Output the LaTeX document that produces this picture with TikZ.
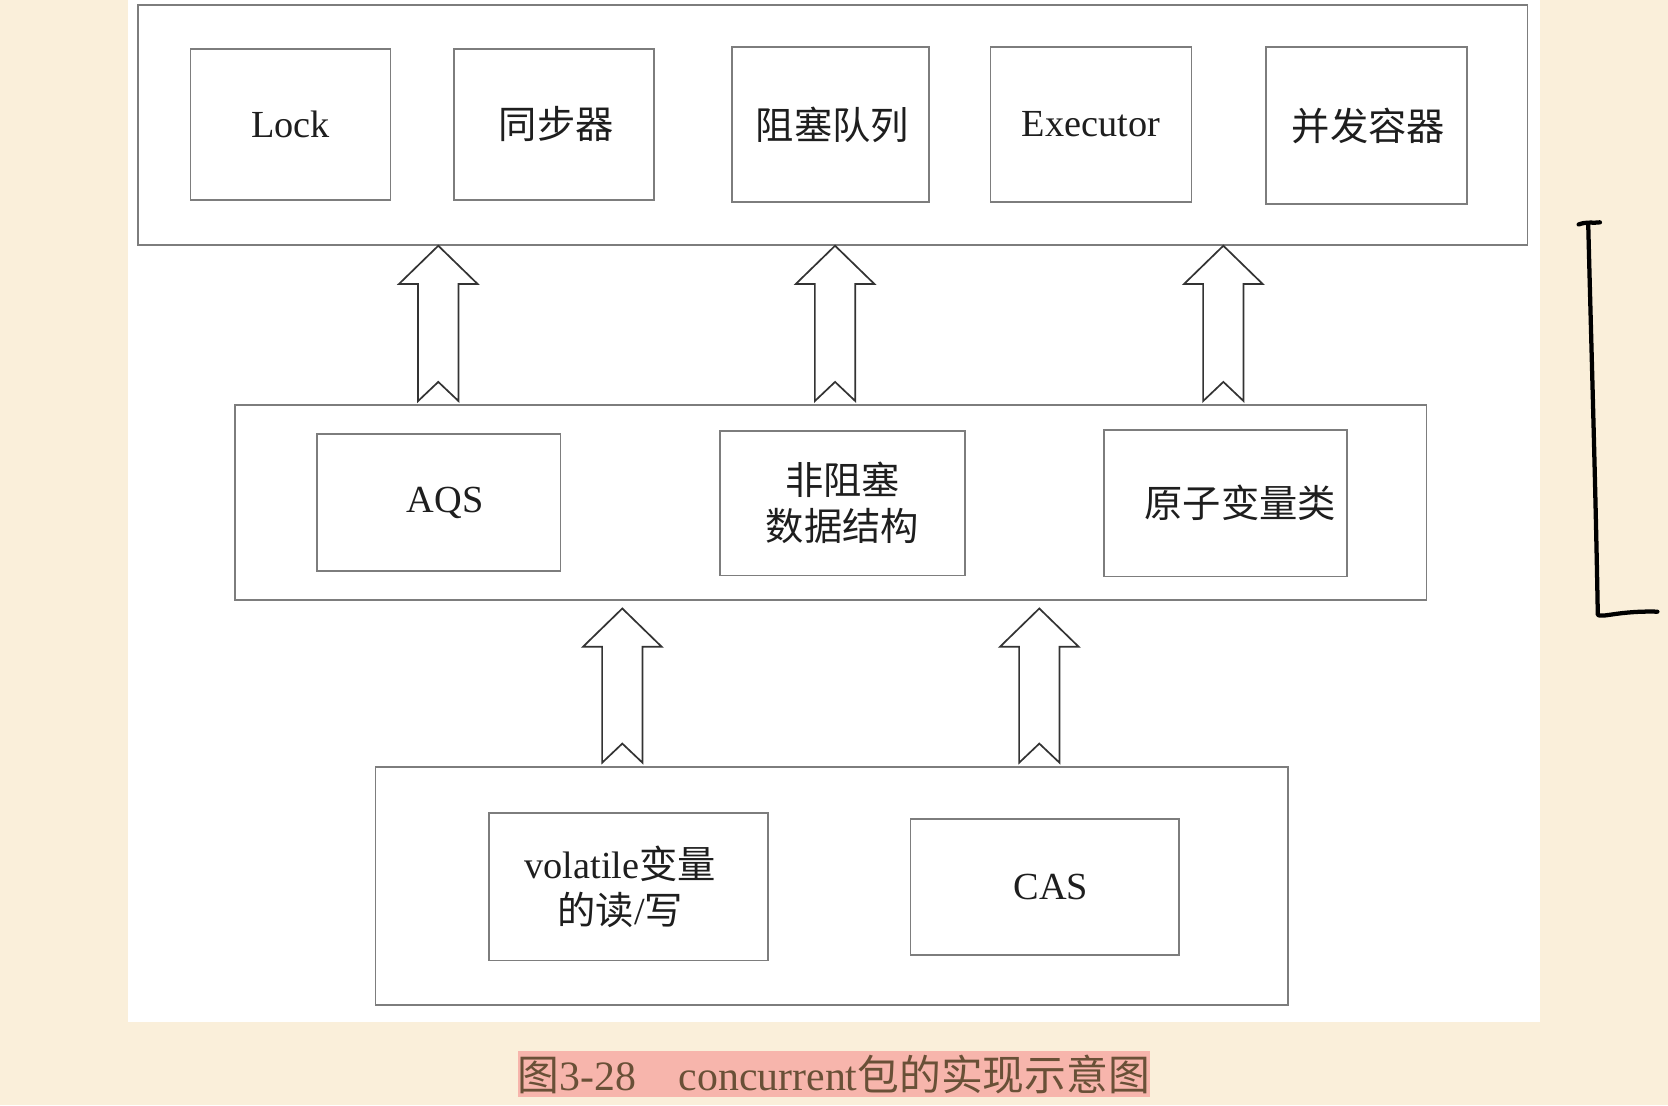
\documentclass[tikz,border=0pt]{standalone}
\usepackage{fontspec}
\setmainfont{Liberation Serif}
\newfontfamily\cjk{Noto Sans CJK SC}
\definecolor{cream}{RGB}{250,239,218}
\definecolor{boxgray}{RGB}{125,125,125}
\definecolor{inktext}{RGB}{30,30,30}
\definecolor{hilite}{RGB}{247,181,172}
\definecolor{captext}{RGB}{105,80,55}
\tikzset{
  outerbox/.style={draw=boxgray,line width=1.6pt,fill=white,inner sep=0pt},
  innerbox/.style={draw=boxgray,line width=1.6pt,fill=white,inner sep=0pt,align=center,
     text=inktext,font=\fontsize{36}{43}\selectfont},
  arrowline/.style={draw=black!80,line width=1.6pt,fill=white,line join=miter},
  pics/hollow/.style={code={
    \path[arrowline] (-19,0) -- (0,-18) -- (19,0) -- (19,{36-#1}) -- (37,{36-#1})
      -- (0,{-#1}) -- (-37,{36-#1}) -- (-19,{36-#1}) -- cycle;
  }},
  bracket/.style={draw=black,line width=4pt,line cap=round,line join=round}
}
\begin{document}
\begin{tikzpicture}[x=1pt,y=-1pt]
\useasboundingbox (0,0) rectangle (1568,1039);
\fill[cream] (0,0) rectangle (1568,1039);
\fill[white] (120,0) rectangle (1448,961);

% top layer
\node[outerbox,minimum width=1306,minimum height=225] (top) at (783,117.5) {};
\node[innerbox,minimum width=188,minimum height=142] (lock) at (273,117) {Lock};
\node[innerbox,minimum width=188,minimum height=142] (sync) at (521,117) {\hspace*{4pt}\cjk 同步器};
\node[innerbox,minimum width=185,minimum height=146] (bq) at (780.5,117) {\hspace*{4pt}\cjk 阻塞队列};
\node[innerbox,minimum width=189,minimum height=146] (exec) at (1025.5,117) {Executor};
\node[innerbox,minimum width=189,minimum height=148] (cc) at (1284.5,118) {\hspace*{4pt}\cjk 并发容器};

% middle layer
\node[outerbox,minimum width=1120,minimum height=183] (mid) at (781,472.5) {};
\node[innerbox,minimum width=229,minimum height=129] (aqs) at (412.5,472.5) {\hspace*{12pt}AQS};
\node[innerbox,minimum width=230,minimum height=136] (nb) at (792,473) {\cjk 非阻塞\\\cjk 数据结构};
\node[innerbox,minimum width=228,minimum height=138] (atom) at (1152,473) {\hspace*{28pt}\cjk 原子变量类};

% bottom layer
\node[outerbox,minimum width=858,minimum height=224] (bot) at (782,833) {};
\node[innerbox,minimum width=262,minimum height=139] (vol) at (591,833.5) {volatile{\cjk 变量}\hspace*{16pt}\\{\cjk 的读}/{\cjk 写}\hspace*{16pt}};
\node[innerbox,minimum width=252,minimum height=128] (cas) at (982,834) {\hspace*{12pt}CAS};

% hollow arrows
\pic at (412,377) {hollow=146};
\pic at (785,377) {hollow=146};
\pic at (1150,377) {hollow=146};
\pic at (585,717) {hollow=145};
\pic at (977,717) {hollow=145};

% hand-drawn bracket
\draw[bracket] (1484,211) .. controls (1492,208) and (1498,210) .. (1504,209);
\draw[bracket] (1493,211) .. controls (1496,330) and (1500,460) .. (1502,578)
  .. controls (1506,581) and (1522,574) .. (1558,575);

% caption
\fill[hilite] (487,988) rectangle (1081,1031);
\node[text=captext,font=\fontsize{39.3}{41}\selectfont,inner sep=0pt] (cap) at (784,1010)
  {{\cjk 图}3-28\hspace{40pt}concurrent{\cjk 包的实现示意图}};
\end{tikzpicture}
\end{document}
